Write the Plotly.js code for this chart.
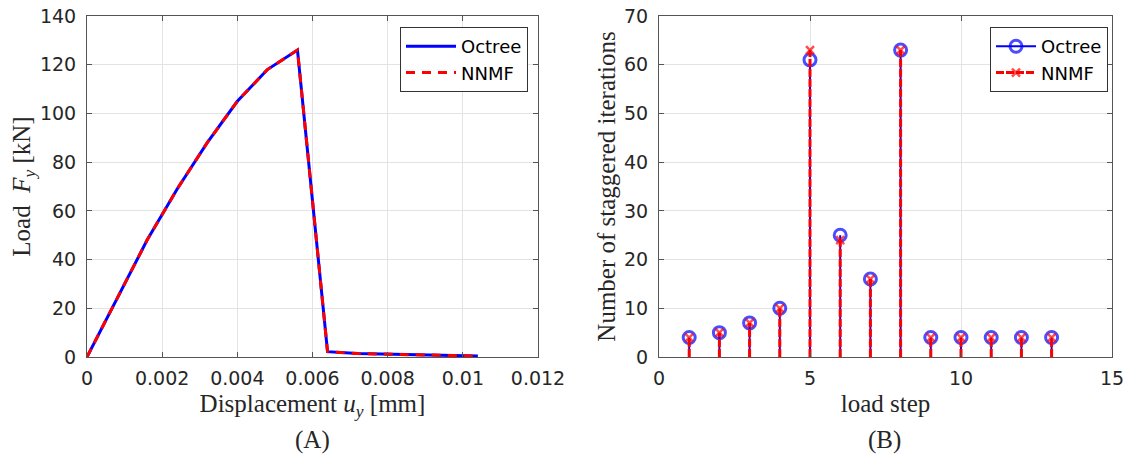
<!DOCTYPE html>
<html>
<head>
<meta charset="utf-8">
<script src="https://cdn.plot.ly/plotly-3.0.1.min.js"></script>
<style>html,body{margin:0;padding:0;background:#fff;}#chart{width:1126px;height:458px;}</style>
</head>
<body>
<div id="chart"></div>
<script>
// ---- Panel (A): load-displacement curve ----
const dispOctree = [0, 0.0008, 0.0016, 0.0024, 0.0032, 0.004, 0.0048, 0.0056, 0.0064, 0.0072, 0.008, 0.0088, 0.0096, 0.0104];
const loadOctree = [0, 24, 48, 69, 88, 105, 118, 126, 2.2, 1.4, 1.1, 0.8, 0.6, 0.4];
const dispNNMF   = [0, 0.0008, 0.0016, 0.0024, 0.0032, 0.004, 0.0048, 0.0056, 0.0064, 0.0072, 0.008, 0.0088, 0.0096, 0.0104];
const loadNNMF   = [0, 24, 48, 69, 88, 105, 118, 126, 2.2, 1.4, 1.1, 0.8, 0.6, 0.4];

// ---- Panel (B): staggered iterations per load step ----
const loadSteps      = [1, 2, 3, 4, 5, 6, 7, 8, 9, 10, 11, 12, 13];
const itersOctree    = [4, 5, 7, 10, 61, 25, 16, 63, 4, 4, 4, 4, 4];
const itersNNMF      = [4, 5, 7, 10, 63, 24, 16, 63, 4, 4, 4, 4, 4];

const seriesNames = ['Octree', 'NNMF'];
const panelLabels = ['(A)', '(B)'];

// Build stem-plot coordinates (base -> value, gap) from the data arrays
function stems(xs, ys, topSize) {
  const x = [], y = [], s = [];
  xs.forEach((v, i) => {
    x.push(v, v, null);
    y.push(0, ys[i], null);
    s.push(0, topSize, 2 * topSize); // unused gap size keeps legend marker at topSize
  });
  return {x, y, s};
}
const stO = stems(loadSteps, itersOctree, 12);
const stN = stems(loadSteps, itersNNMF, 8);

const BLUE = '#0000ff', RED = '#ff0000';
const tickFont = {family: 'DejaVu Sans', size: 19, color: '#262626'};
const titleFont = {family: 'Liberation Serif', size: 25, color: '#262626'};

const traces = [
  {x: dispOctree, y: loadOctree, type: 'scatter', mode: 'lines', name: seriesNames[0],
   line: {color: BLUE, width: 3}, xaxis: 'x', yaxis: 'y', legend: 'legend'},
  {x: dispNNMF, y: loadNNMF, type: 'scatter', mode: 'lines', name: seriesNames[1],
   line: {color: RED, width: 3, dash: '9px,7px'}, xaxis: 'x', yaxis: 'y', legend: 'legend'},
  {x: stO.x, y: stO.y, type: 'scatter', mode: 'lines+markers', name: seriesNames[0],
   line: {color: BLUE, width: 2}, connectgaps: false,
   marker: {symbol: 'circle-open', size: stO.s, color: BLUE, line: {width: 3, color: BLUE}},
   xaxis: 'x2', yaxis: 'y2', legend: 'legend2', cliponaxis: false},
  {x: stN.x, y: stN.y, type: 'scatter', mode: 'lines+markers', name: seriesNames[1],
   line: {color: RED, width: 3, dash: '8px,2px'}, connectgaps: false,
   marker: {symbol: 'x-thin-open', size: stN.s, color: RED, line: {width: 2.5, color: RED}},
   xaxis: 'x2', yaxis: 'y2', legend: 'legend2', cliponaxis: false}
];

const axisCommon = {
  showline: true, linecolor: '#555555', linewidth: 1, mirror: 'ticks',
  ticks: 'inside', ticklen: 5, tickcolor: '#555555', tickwidth: 1,
  showgrid: true, gridcolor: '#e3e3e3', gridwidth: 1, zeroline: false,
  tickfont: tickFont, automargin: false, fixedrange: true
};

const H = 458, W = 1126;
const yDom = [1 - 357 / H, 1 - 16 / H];

const layout = {
  width: W, height: H,
  margin: {l: 0, r: 0, t: 0, b: 0},
  paper_bgcolor: '#ffffff', plot_bgcolor: '#ffffff',
  showlegend: true,
  xaxis: Object.assign({}, axisCommon, {
    domain: [87 / W, 538 / W], range: [0, 0.012], dtick: 0.002, tick0: 0,
    ticklabelstandoff: 4,
    title: {text: 'Displacement <i>u</i><sub><i>y</i></sub> [mm]', font: titleFont, standoff: 6}
  }),
  yaxis: Object.assign({}, axisCommon, {
    domain: yDom, range: [0, 140], dtick: 20, ticklabelstandoff: 6,
    title: {text: 'Load  <i>F</i><sub><i>y</i></sub> [kN]', font: titleFont, standoff: 2}
  }),
  xaxis2: Object.assign({}, axisCommon, {
    domain: [659 / W, 1112 / W], range: [0, 15], dtick: 5, tick0: 0, anchor: 'y2',
    ticklabelstandoff: 4,
    title: {text: 'load step', font: titleFont, standoff: 6}
  }),
  yaxis2: Object.assign({}, axisCommon, {
    domain: yDom, range: [0, 70], dtick: 10, anchor: 'x2', ticklabelstandoff: 6,
    title: {text: 'Number of staggered iterations', font: titleFont, standoff: 1}
  }),
  legend: {
    x: 528 / W, y: 1 - 27 / H, xanchor: 'right', yanchor: 'top',
    bgcolor: '#ffffff', bordercolor: '#333333', borderwidth: 1,
    font: {family: 'DejaVu Sans', size: 18, color: '#000000'},
    itemwidth: 50, tracegroupgap: 0
  },
  legend2: {
    x: 1108 / W, y: 1 - 27 / H, xanchor: 'right', yanchor: 'top',
    bgcolor: '#ffffff', bordercolor: '#333333', borderwidth: 1,
    font: {family: 'DejaVu Sans', size: 18, color: '#000000'},
    itemwidth: 40, tracegroupgap: 0
  },
  annotations: [
    {text: panelLabels[0], xref: 'paper', yref: 'paper', x: 312 / W, y: 1 - 440 / H,
     showarrow: false, font: titleFont, xanchor: 'center', yanchor: 'middle'},
    {text: panelLabels[1], xref: 'paper', yref: 'paper', x: 885 / W, y: 1 - 440 / H,
     showarrow: false, font: titleFont, xanchor: 'center', yanchor: 'middle'}
  ]
};

Plotly.newPlot('chart', traces, layout, {displayModeBar: false, staticPlot: true});
</script>
</body>
</html>
